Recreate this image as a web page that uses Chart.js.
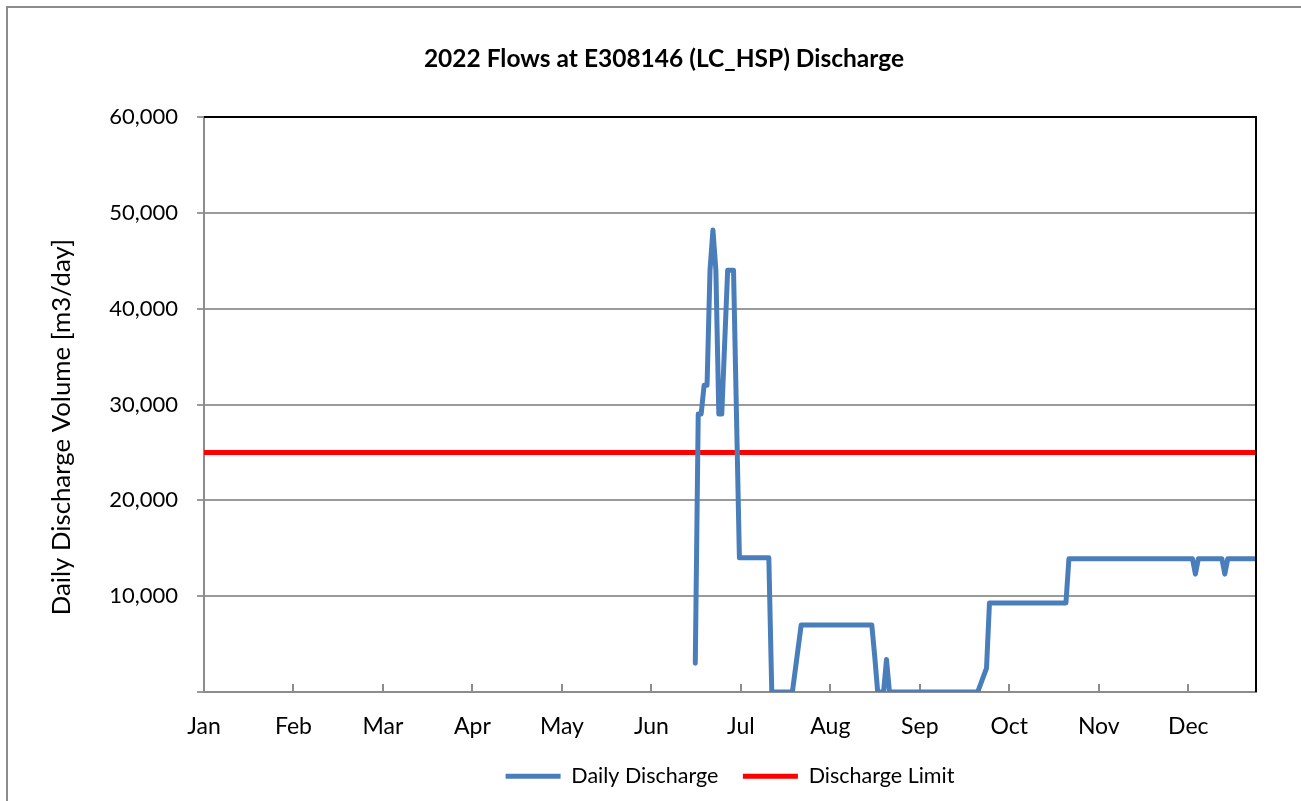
<!DOCTYPE html>
<html>
<head>
<meta charset="utf-8">
<script src="https://cdn.jsdelivr.net/npm/chart.js@4.4.0/dist/chart.umd.min.js"></script>
<style>
  html, body { margin: 0; padding: 0; background: #fff; }
</style>
</head>
<body>
<canvas id="graficoVazao" width="1301" height="801"></canvas>
<script>
const meses = ['Jan', 'Feb', 'Mar', 'Apr', 'May', 'Jun', 'Jul', 'Aug', 'Sep', 'Oct', 'Nov', 'Dec'];

// dia do ano (0 = 1 Jan) e volume diario [m3/day]
const dias = [167, 168, 169, 170, 171, 172, 173, 174, 175, 176, 178, 180, 182, 192, 193, 200, 203,
  227, 228, 229, 231, 232, 233, 263, 266, 267, 293, 294, 336, 337, 338, 346, 347, 348, 357];
const vazao = [3000, 29000, 29000, 32000, 32000, 44000, 48200, 44000, 29000, 29000, 44000, 44000, 14000, 14000, 0, 0, 7000,
  7000, 3700, 0, 0, 3400, 0, 0, 2500, 9300, 9300, 13900, 13900, 12300, 13900, 13900, 12300, 13900, 13900];

const limite = 25000;
const eixoX = [0, 357.6];
const eixoY = [0, 60000, 10000];

const fonte = 'Lato';

const molduras = {
  id: 'molduras',
  beforeDraw(chart) {
    const ctx = chart.ctx;
    ctx.save();
    ctx.strokeStyle = '#8c8c8c';
    ctx.lineWidth = 2;
    ctx.beginPath();
    ctx.moveTo(7, chart.height);
    ctx.lineTo(7, 7);
    ctx.lineTo(chart.width, 7);
    ctx.stroke();
    ctx.restore();
  },
  afterDatasetsDraw(chart) {
    const a = chart.chartArea;
    const ctx = chart.ctx;
    ctx.save();
    ctx.strokeStyle = '#000';
    ctx.lineWidth = 2;
    ctx.beginPath();
    ctx.moveTo(a.left, a.top);
    ctx.lineTo(a.right, a.top);
    ctx.lineTo(a.right, a.bottom);
    ctx.stroke();
    ctx.restore();
  }
};

const ctx = document.getElementById('graficoVazao').getContext('2d');
const chart = new Chart(ctx, {
  type: 'line',
  data: {
    datasets: [
      {
        label: 'Daily Discharge',
        data: dias.map((d, i) => ({ x: d, y: vazao[i] })),
        borderColor: '#4a7ebb',
        backgroundColor: '#4a7ebb',
        borderWidth: 5,
        borderJoinStyle: 'round',
        borderCapStyle: 'round',
        pointRadius: 0,
        tension: 0
      },
      {
        label: 'Discharge Limit',
        data: eixoX.map(d => ({ x: d, y: limite })),
        borderColor: '#ff0000',
        backgroundColor: '#ff0000',
        borderWidth: 5,
        borderCapStyle: 'round',
        pointRadius: 0
      }
    ]
  },
  options: {
    responsive: false,
    animation: false,
    events: [],
    layout: { padding: { left: 72, right: 45, top: 0, bottom: 4 } },
    scales: {
      x: {
        type: 'linear',
        min: eixoX[0],
        max: eixoX[1],
        afterBuildTicks: s => { s.ticks = meses.map((m, i) => ({ value: i * 365 / 12 })); },
        afterFit: s => { s.height = 49; },
        ticks: {
          callback: (v, i) => meses[i],
          font: { family: fonte, size: 23 },
          color: '#000',
          padding: 29,
          maxRotation: 0,
          autoSkip: false
        },
        grid: { drawOnChartArea: false, drawTicks: true, tickLength: -8, color: '#8c8c8c', lineWidth: 2 },
        border: { color: '#8c8c8c', width: 2 }
      },
      y: {
        min: eixoY[0],
        max: eixoY[1],
        afterFit: s => { s.width = 204 - 72; },
        ticks: {
          stepSize: eixoY[2],
          callback: v => v === 0 ? '' : v.toLocaleString('en-US'),
          font: { family: fonte, size: 22 },
          color: '#000',
          padding: 19
        },
        grid: { color: '#9a9a9a', lineWidth: 2, tickLength: 7 },
        border: { color: '#8c8c8c', width: 2 },
        title: {
          display: true,
          text: 'Daily Discharge Volume [m3/day]\u2003\u2003 ',
          font: { family: fonte, size: 25.8 },
          color: '#000',
          padding: { top: -25.5, bottom: 0 }
        }
      }
    },
    plugins: {
      title: {
        display: true,
        text: '2022 Flows at E308146 (LC_HSP) Discharge',
        font: { family: fonte, size: 24.5, weight: 'bold' },
        color: '#000',
        padding: { top: 44, bottom: 43.6 }
      },
      legend: {
        position: 'bottom',
        fullSize: false,
        labels: {
          usePointStyle: true,
          pointStyle: 'line',
          pointStyleWidth: 55,
          font: { family: fonte, size: 21.5 },
          color: '#000',
          padding: 24.5
        }
      },
      tooltip: { enabled: false }
    }
  },
  plugins: [molduras]
});
</script>
</body>
</html>
